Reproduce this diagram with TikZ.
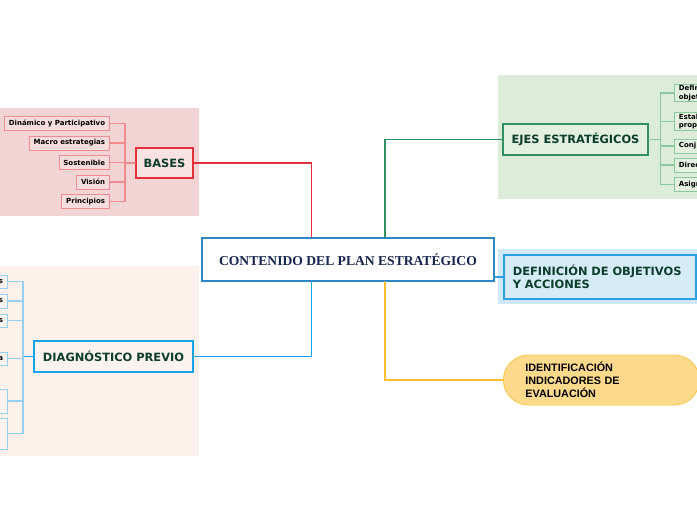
\documentclass[tikz,border=0pt]{standalone}
\usepackage{fontspec}
\setmainfont{DejaVu Sans}
\newfontfamily\titlefont{Liberation Serif}
\newfontfamily\arialfont{Liberation Sans}
\usetikzlibrary{positioning}
\definecolor{pinkbg}{HTML}{F2D4D4}
\definecolor{basesred}{HTML}{E4303A}
\definecolor{basesfill}{HTML}{F8E2E2}
\definecolor{leafred}{HTML}{F08C90}
\definecolor{leafpink}{HTML}{F6DCDC}
\definecolor{greenbg}{HTML}{DCECD9}
\definecolor{ejesgreen}{HTML}{2F9160}
\definecolor{ejesfill}{HTML}{E3F0E0}
\definecolor{leafgreen}{HTML}{8CC89E}
\definecolor{defbg}{HTML}{D0E8F7}
\definecolor{defblue}{HTML}{2AA0E2}
\definecolor{deffill}{HTML}{D5EBF8}
\definecolor{peachbg}{HTML}{FCF0EB}
\definecolor{diagblue}{HTML}{16A4E8}
\definecolor{diagfill}{HTML}{FBF3EF}
\definecolor{leafblue}{HTML}{94D1F0}
\definecolor{mainblue}{HTML}{2C86C7}
\definecolor{maintext}{HTML}{15254F}
\definecolor{yellowline}{HTML}{FBBE2C}
\definecolor{yellowfill}{HTML}{FDD98B}
\definecolor{yellowdraw}{HTML}{F8C446}
\definecolor{topictext}{HTML}{0D3D2B}

\begin{document}
\begin{tikzpicture}[x=1pt,y=-1pt,line cap=round,
  topic/.style={draw,line width=1.6pt,font=\bfseries\fontsize{11.4}{13.5}\selectfont,text=topictext,inner sep=0pt},
  leaf/.style={draw,line width=0.8pt,font=\bfseries\fontsize{7}{8.5}\selectfont,inner xsep=4.5pt,inner ysep=1pt,minimum height=14pt},
  link/.style={line width=1.2pt}]
\useasboundingbox (0,0) rectangle (697,520);
\begin{scope}
\clip (0,0) rectangle (697,520);
\fill[pinkbg] (0,108) rectangle (199,216);
\fill[greenbg] (498,75) rectangle (697,199);
\fill[defbg] (498,249) rectangle (697,304);
\fill[peachbg] (0,266) rectangle (199,456);

\node[draw=mainblue,line width=1.6pt,fill=white,minimum width=292pt,minimum height=43pt,
  font=\titlefont\bfseries\fontsize{13.6}{15}\selectfont,text=maintext] (main) at (348,259.5) {CONTENIDO DEL PLAN ESTRATÉGICO};

\node[topic,draw=basesred,fill=basesfill,minimum width=57pt,minimum height=30pt] (bases) at (164.5,163) {BASES};
\node[leaf,draw=leafred,fill=leafpink,anchor=east] (dinamico) at (110,123.7) {Dinámico y Participativo};
\node[leaf,draw=leafred,fill=leafpink,anchor=east] (macro) at (110,143) {Macro estrategias};
\node[leaf,draw=leafred,fill=leafpink,anchor=east] (sostenible) at (110,162.5) {Sostenible};
\node[leaf,draw=leafred,fill=leafpink,anchor=east] (vision) at (110,182) {Visión};
\node[leaf,draw=leafred,fill=leafpink,anchor=east] (principios) at (110,201.5) {Principios};
\coordinate (basesjoin) at (125,163);
\draw[link,leafred] (bases) -- (basesjoin);
\draw[link,leafred] (dinamico) -| (basesjoin);
\draw[link,leafred] (macro) -| (basesjoin);
\draw[link,leafred] (sostenible) -| (basesjoin);
\draw[link,leafred] (vision) -| (basesjoin);
\draw[link,leafred] (principios) -| (basesjoin);

\node[topic,draw=ejesgreen,fill=ejesfill,minimum width=145pt,minimum height=31pt] (ejes) at (575.5,139.5) {EJES ESTRATÉGICOS};
\node[leaf,draw=leafgreen,fill=ejesfill,anchor=west,text width=60pt,align=left] (definir) at (674,93) {Defin\\objet};
\node[leaf,draw=leafgreen,fill=ejesfill,anchor=west,text width=60pt,align=left] (establecer) at (674,121.5) {Estab\\propo};
\node[leaf,draw=leafgreen,fill=ejesfill,anchor=west,text width=60pt,align=left] (conjunto) at (674,146) {Conj};
\node[leaf,draw=leafgreen,fill=ejesfill,anchor=west,text width=60pt,align=left] (direccion) at (674,165) {Direc};
\node[leaf,draw=leafgreen,fill=ejesfill,anchor=west,text width=60pt,align=left] (asignar) at (674,184.5) {Asign};
\coordinate (ejesjoin) at (660.7,139.5);
\draw[link,leafgreen] (ejes) -- (ejesjoin);
\draw[link,leafgreen] (definir) -| (ejesjoin);
\draw[link,leafgreen] (establecer) -| (ejesjoin);
\draw[link,leafgreen] (conjunto) -| (ejesjoin);
\draw[link,leafgreen] (direccion) -| (ejesjoin);
\draw[link,leafgreen] (asignar) -| (ejesjoin);

\node[topic,draw=defblue,fill=deffill,anchor=west,text width=174pt,inner xsep=9pt,minimum height=44pt,align=left] (objetivos) at (503,277) {DEFINICIÓN DE OBJETIVOS\\Y ACCIONES};

\node[draw=yellowdraw,line width=0.8pt,fill=yellowfill,rounded corners=25pt,anchor=west,text width=152pt,inner xsep=22pt,minimum height=50pt,align=left,
  font=\arialfont\bfseries\fontsize{10.8}{13}\selectfont] (indicadores) at (503,380) {IDENTIFICACIÓN\\INDICADORES DE\\EVALUACIÓN};

\node[topic,draw=diagblue,fill=diagfill,minimum width=159pt,minimum height=31pt] (diag) at (113.5,356.5) {DIAGNÓSTICO PREVIO};
\node[leaf,draw=leafblue,fill=diagfill,anchor=east,text width=52pt,align=right,minimum height=13pt] (diaga) at (8,281.5) {s};
\node[leaf,draw=leafblue,fill=diagfill,anchor=east,text width=52pt,align=right] (diagb) at (8,301) {s};
\node[leaf,draw=leafblue,fill=diagfill,anchor=east,text width=52pt,align=right,minimum height=13pt] (diagc) at (8,320.5) {s};
\node[leaf,draw=leafblue,fill=diagfill,anchor=east,text width=52pt,align=right,minimum height=13pt] (diagd) at (8,358.5) {a};
\node[leaf,draw=leafblue,fill=diagfill,anchor=east,text width=52pt,minimum height=24pt] (diage) at (8,401) {};
\node[leaf,draw=leafblue,fill=diagfill,anchor=east,text width=52pt,minimum height=31pt] (diagf) at (8,433.5) {};
\coordinate (diagjoin) at (23,356.5);
\draw[link,diagblue] (diag) -- (diagjoin);
\draw[link,leafblue] (diaga) -| (diagjoin);
\draw[link,leafblue] (diagb) -| (diagjoin);
\draw[link,leafblue] (diagc) -| (diagjoin);
\draw[link,leafblue] (diagd) -| (diagjoin);
\draw[link,leafblue] (diage) -| (diagjoin);
\draw[link,leafblue] (diagf) -| (diagjoin);

\draw[link,basesred] (311.7,0 |- main.north) |- (bases);
\draw[link,ejesgreen] (385,0 |- main.north) |- (ejes);
\draw[link,diagblue] (311.7,0 |- main.south) |- (diag);
\draw[link,yellowline] (385,0 |- main.south) |- (indicadores);
\draw[link,defblue] (main.east |- objetivos.west) -- (objetivos.west);
\end{scope}
\end{tikzpicture}
\end{document}
